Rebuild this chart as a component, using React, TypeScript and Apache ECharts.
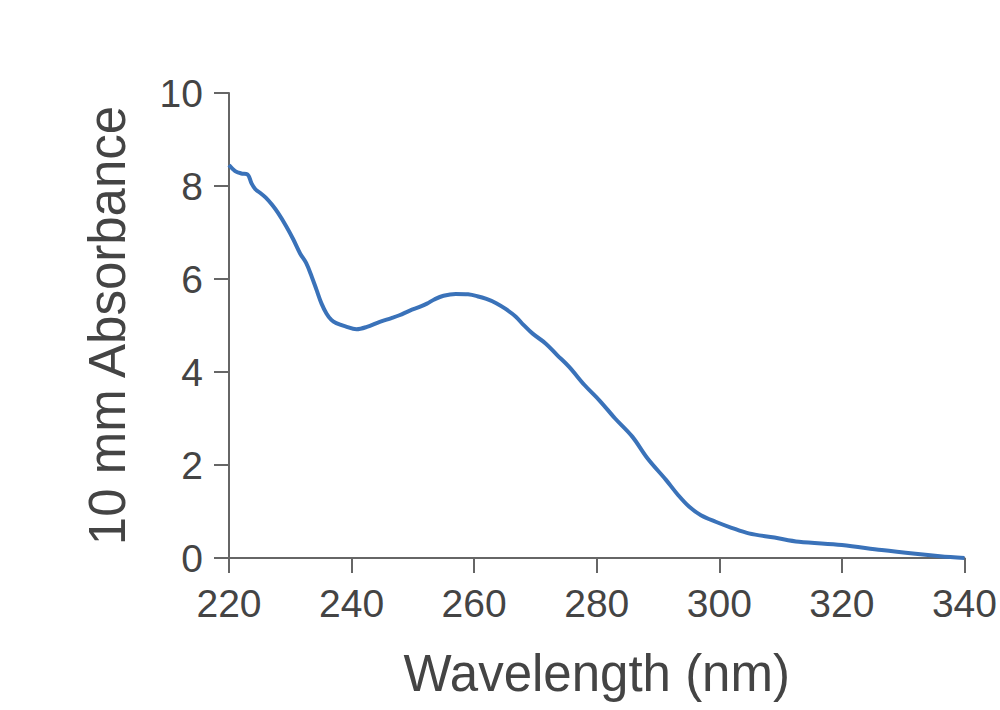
import React, { useEffect, useRef } from "react";
import * as echarts from "echarts";

const wavelengths = [
  220, 221, 222, 223, 223.7, 224.3, 225, 226, 227, 228, 229.4, 230.5, 231.6, 232.6, 233.5, 234.3,
  235.1, 235.9, 236.7, 237.5, 239, 240.8, 242.5, 244.6, 246.5, 247.8, 249.5, 251.1, 252.3, 253.5,
  255, 257, 259, 260.5, 262, 263.6, 265.2, 266.8, 268, 269.5, 271.7, 273.5, 275.5, 278, 280.5, 283,
  285.8, 288.3, 291.3, 293.3, 295.1, 297, 299.4, 302, 304.8, 309, 313, 320, 326.5, 332, 336, 340,
];
const absorbance = [
  8.45, 8.32, 8.27, 8.25, 8.05, 7.93, 7.86, 7.75, 7.6, 7.42, 7.12, 6.85, 6.55, 6.34, 6.05, 5.76,
  5.47, 5.26, 5.12, 5.05, 4.98, 4.92, 4.97, 5.08, 5.16, 5.22, 5.32, 5.4, 5.47, 5.56,
  5.64, 5.68, 5.67, 5.63, 5.57, 5.48, 5.35, 5.19, 5.02, 4.83, 4.61, 4.37, 4.11, 3.72, 3.38, 3.0,
  2.61, 2.14, 1.68, 1.35, 1.1, 0.92, 0.78, 0.65, 0.53, 0.44, 0.35, 0.28, 0.17, 0.09, 0.04, 0.0,
];

const xTitle = "Wavelength (nm)";
const yTitle = "10 mm Absorbance";

export default function App() {
  const ref = useRef<HTMLDivElement>(null);
  useEffect(() => {
    document.body.style.margin = "0";
    const chart = echarts.init(ref.current!, null, { renderer: "svg" });
    const font = "'Liberation Sans', Arial, sans-serif";
    const axisColor = "#666";
    const textColor = "#444";
    chart.setOption({
      animation: false,
      backgroundColor: "#fff",
      grid: { left: 229, right: 34, top: 93, bottom: 152, containLabel: false },
      xAxis: {
        type: "value",
        min: 220,
        max: 340,
        interval: 20,
        name: xTitle,
        nameLocation: "middle",
        nameGap: 90,
        nameTextStyle: { fontSize: 51, color: textColor, fontFamily: font },
        axisLine: { show: true, onZero: false, lineStyle: { color: axisColor, width: 2 } },
        axisTick: { show: true, length: 15, lineStyle: { color: axisColor, width: 2 } },
        axisLabel: { fontSize: 39, color: textColor, fontFamily: font, margin: 26 },
        splitLine: { show: false },
      },
      yAxis: {
        type: "value",
        min: 0,
        max: 10,
        interval: 2,
        name: yTitle,
        nameLocation: "middle",
        nameRotate: 90,
        nameGap: 96,
        nameTextStyle: { fontSize: 51, color: textColor, fontFamily: font },
        axisLine: { show: true, lineStyle: { color: axisColor, width: 2 } },
        axisTick: { show: true, length: 15, lineStyle: { color: axisColor, width: 2 } },
        axisLabel: { fontSize: 39, color: textColor, fontFamily: font, margin: 26 },
        splitLine: { show: false },
      },
      series: [
        {
          type: "line",
          data: wavelengths.map((w, i) => [w, absorbance[i]]),
          smooth: 0.35,
          showSymbol: false,
          lineStyle: { color: "#3a72b9", width: 4 },
        },
      ],
    });
    return () => chart.dispose();
  }, []);
  return (
    <div
      ref={ref}
      style={{ position: "fixed", left: 0, top: 0, width: 1000, height: 710 }}
    />
  );
}
